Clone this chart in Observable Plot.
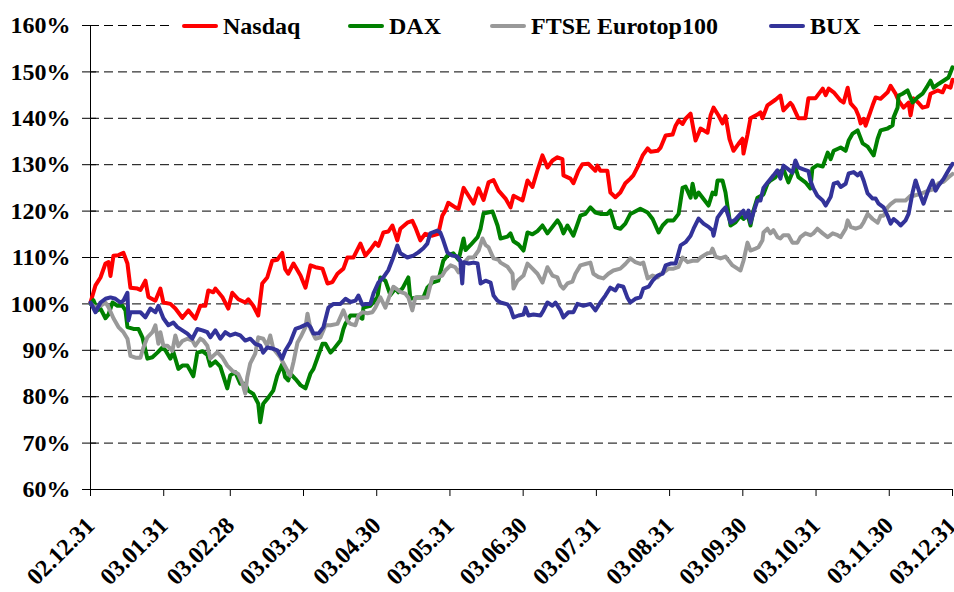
<!DOCTYPE html>
<html><head><meta charset="utf-8">
<script src="https://cdn.jsdelivr.net/npm/d3@7"></script>
<script src="https://cdn.jsdelivr.net/npm/@observablehq/plot@0.6"></script>
<style>
html,body{margin:0;padding:0;background:#fff;}
#wrap{position:relative;width:954px;height:592px;overflow:hidden;}
#legend{position:absolute;left:172px;top:11px;width:700px;height:30px;background:#fff;font-family:"Liberation Serif","Times New Roman",serif;font-weight:bold;font-size:24px;color:#000;}
.item{position:absolute;top:0;height:30px;display:flex;align-items:center;white-space:nowrap}
.sw{width:36px;height:4px;border-radius:2px;margin-right:5px}
</style></head><body><div id="wrap"><div id="legend"></div></div>
<script>
// x = trading-session index since 2002.12.31 (category axis), y = index level in %
const seriesNames = ["Nasdaq", "DAX", "FTSE Eurotop100", "BUX"];
const seriesColors = ["#FF0000", "#008000", "#999999", "#333399"];
const tickLabels = ["02.12.31","03.01.31","03.02.28","03.03.31","03.04.30","03.05.31","03.06.30","03.07.31","03.08.31","03.09.30","03.10.31","03.11.30","03.12.31"];
const tickSessions = [0,22,42,64,86,108,130,152,174,196,218,240,259];
const yTicks = [60,70,80,90,100,110,120,130,140,150,160];

const nasdaq = [[0,100.3],[1.5,104],[3,105.7],[4.5,108.7],[5.4,109],[6,106],[6.9,110.4],[8.4,110.5],[9.9,111],[11.1,108.7],[12,103.5],[14.1,103.3],[15,103],[16.5,105],[17.4,101.5],[19.5,100.7],[21,103.3],[21.9,100.3],[24,100],[25.5,99],[27.6,97],[29.4,98.6],[31.5,96.8],[33,99.6],[34.5,99.6],[35.4,102.9],[36.9,102.5],[37.5,103.3],[39.6,101.5],[41.4,99],[42.6,102.4],[44.4,101],[46.5,100.3],[47.4,101],[48.9,99.6],[50.4,97.5],[51.6,104.4],[53.1,105.7],[54.6,109.3],[56.1,109.5],[57.6,111],[58.5,107.5],[59.4,106.5],[61,108.7],[63.1,106.1],[64.6,103.5],[66.1,108.3],[67.6,107.9],[69.7,107.6],[71.2,104.4],[72.7,104.7],[74.2,106.5],[76,107.6],[77.2,110],[79,110],[81.1,113],[82.6,110.4],[84.1,111.7],[85.6,113.2],[86.5,112.5],[88,115.4],[89.5,115.6],[90.7,116.9],[92.2,113.7],[93.1,116.2],[95.2,117.5],[96.7,117.9],[97.6,116.5],[99.1,113.7],[100.6,115.1],[102.7,114.7],[104.5,115.1],[105.7,119],[106.6,120.1],[107.5,121.8],[109.6,120.8],[110.6,120.5],[112.1,125],[113.6,123.3],[115.1,121.6],[116.6,124.9],[118.1,122.4],[119.6,126.2],[121.1,126.7],[122.6,124.4],[124.7,122.7],[126.2,120.8],[127.1,123.3],[129.8,122.3],[131.3,126.6],[132.8,125.2],[134.3,128.8],[135.8,132],[137.3,129.4],[138.8,130.9],[140.3,131.6],[141.8,131.2],[142.1,127.7],[144.2,127],[145.1,126],[146.6,128.7],[147.8,130.1],[149.6,130.2],[151.7,128.7],[152.3,129.8],[153.2,128.7],[155.3,128.7],[156.2,124],[157.7,123],[159.2,124],[160.7,126],[162.2,127],[163.1,127.7],[164.6,129.8],[165.9,132],[167.4,133.5],[168.3,132.8],[170.4,133],[171.3,133.7],[172.8,136.3],[174.9,136.5],[175.8,138.4],[176.7,139.5],[177.9,138.8],[178.8,139.9],[180.3,141],[181.8,135.2],[183.3,137.8],[185.4,136.9],[186.3,140.6],[187.2,142.3],[188.7,140.6],[189.9,138.9],[190.8,140.5],[192,135.5],[193.2,133],[194.7,134.5],[195.9,135.6],[196.2,132.4],[197.4,136.5],[198.3,140],[200.4,140.8],[201.3,141.3],[201.9,140],[203.4,142.8],[205.8,144],[207.3,144.9],[208.2,141.7],[210.3,143.3],[210.9,142.8],[212.7,140],[214.8,140],[215.7,144.3],[217.8,144.3],[220,146.4],[220.9,145],[221.8,146.4],[223.3,145.6],[225.4,143.8],[226.3,143.4],[227.5,146.6],[228.4,143.2],[229.9,142],[230.8,140.5],[231.4,138.9],[232.3,139.9],[232.9,138.4],[233.8,140.3],[235,142.8],[235.9,144.5],[237.4,144.2],[239.5,145.6],[240.4,147],[241.9,145.3],[242.8,143.8],[244.3,142.3],[245.8,143.4],[246.4,140.6],[247.3,144.3],[248.8,143.3],[250,142.3],[251.5,142.6],[252.4,145.3],[254.5,146],[256,145.6],[256.9,147],[258.4,146.6],[259,148.3]];

const dax = [[0,100],[0.9,100.8],[2.1,98.6],[3,99],[4.5,96.9],[5.4,97.7],[6.6,100.3],[8.1,99.6],[9.6,99.6],[10.5,98.6],[11.1,95],[12.9,94.6],[14.4,94.6],[15.6,92.8],[17.1,88.2],[18.6,88.5],[20.1,89.5],[21.6,90.6],[22.5,90],[24,88.2],[24.9,89.6],[26.4,86],[27.6,86.7],[29.1,86.7],[30,85.6],[30.9,84.4],[32.1,89.5],[33.6,89.8],[35.1,89],[36,86.7],[37.5,87.6],[39,86.5],[41.1,81.8],[42,84.6],[43.5,85.3],[45,82.8],[46.5,82.8],[47.4,81.3],[48.9,80.6],[50.4,78.5],[51,74.5],[51.9,78.5],[53.4,79.8],[54.9,81.3],[56.1,84.5],[57.6,87],[58.5,84.2],[59.4,83.5],[60,85],[61.6,83.8],[63.1,82.5],[64.6,81.8],[66.1,85],[67,86],[68.2,88.4],[69.7,91.4],[70.6,91.4],[72.1,89.5],[73,90.2],[75.1,92.1],[76,94.6],[76.6,95.7],[78.1,97.5],[80.2,97.5],[81.7,96.8],[82,99.2],[84.1,99.6],[86.2,101.4],[87.1,105.7],[88.6,105],[90.1,101.9],[91.6,103.3],[92.5,102.5],[93.7,103.3],[95.5,105.7],[96.1,101.1],[98.2,101.4],[100,101.4],[101.2,103.5],[102.7,104.6],[104.5,105],[106,109.3],[107.2,110.4],[109,110.9],[110.6,109.5],[112.1,114.1],[112.7,111.6],[114.2,112.7],[116.3,114.4],[117.2,116.2],[118.1,119.5],[120.8,119.9],[122.3,116.9],[123.2,114.1],[125.3,114.5],[126.2,115.2],[127.1,113.5],[128.6,112.8],[130.1,111.5],[131.3,115.4],[132.8,115],[134.3,115.7],[135.8,116.9],[137.3,115.2],[138.8,116.6],[140.3,118],[141.2,117],[142.1,115.2],[143.3,116.9],[145.1,114.7],[147.2,119],[148.7,119.4],[150.2,120.8],[151.7,119.7],[153.2,119.4],[155.3,119.4],[156.2,120.1],[157.7,116.5],[159.2,116.2],[160.7,117.3],[162.2,119.4],[163.1,119.7],[165.2,120.5],[167.4,119.7],[168.9,118.3],[170.7,115.4],[171.9,116.9],[173.4,118],[175.2,118],[176.7,119.4],[177.9,125],[178.8,125.3],[180.3,122.9],[180.9,125.9],[181.8,122.9],[182.7,124],[184.2,122.6],[185.7,121.2],[186.9,124],[187.8,123.6],[188.4,126.6],[189.9,126.6],[190.8,124],[191.4,121],[192.3,116.9],[193.8,117.6],[195.3,119],[196.2,118.3],[197.4,119.4],[198.3,116.9],[199.2,120.1],[200.4,122.9],[202.2,123.6],[203.4,125.9],[204.3,126.6],[205.8,127.3],[206.7,128.3],[208.2,129],[209.7,126.2],[210.9,128.3],[211.8,129.4],[212.7,127.3],[214.8,126.2],[216.3,124.9],[216.9,129.2],[218.4,129.9],[220,129.6],[221.5,132.6],[222.4,131.2],[223.3,133],[225.4,133.7],[226.9,133],[227.8,135.2],[229,136.7],[230.5,137.4],[232,134.6],[233.5,133.9],[235.3,132],[236.5,135.6],[237.4,137.4],[239.5,137.8],[241,138.5],[241.3,140.2],[242.5,142.3],[242.8,144.9],[244,145.3],[245.5,146],[247,143.4],[248.5,144.5],[250,145.3],[251.5,147],[252.4,148.1],[253.3,146.6],[254.8,147.4],[256.3,148.1],[257.8,148.8],[259,151]];

const ftse = [[0,100],[1.5,99.3],[3,99.6],[4.5,100.3],[5.4,99.3],[6.9,96.9],[8.4,95],[9.9,93.9],[11.1,92.5],[12,88.8],[13.5,88.4],[15,88.4],[15.9,90.6],[17.1,92.8],[18.6,93.9],[19.5,95.4],[20.4,91.4],[21,93.9],[21.9,91],[23.1,91],[24.6,89.9],[25.5,93.2],[26.4,90.9],[27.6,92],[29.1,92.5],[30.6,92.1],[31.5,91],[33,92.5],[33.9,92.1],[35.1,91],[36,88.2],[38.1,89.6],[39.6,88.5],[41.1,86.7],[42.6,85.6],[44.4,84.9],[45.6,83],[46.5,80.7],[47.1,84.2],[48,87.2],[49.5,89.3],[50.4,92.8],[51.9,92.5],[53.1,91],[54,93.2],[54.9,90.4],[56.1,89.3],[57,88.5],[58.5,86.5],[60,84.5],[61,87.5],[62.2,91.7],[63.1,92.8],[64.6,95],[65.2,97.9],[66.1,94.6],[67.6,92.5],[69.1,92.8],[70.6,95.4],[72.1,95.4],[74.2,95.7],[76,98.6],[77.2,96.4],[78.1,95.7],[79.6,95.4],[80.5,97.5],[81.7,98.2],[83.2,98],[84.7,98.2],[85.6,99.2],[87.1,101.4],[88.6,99.2],[90.1,102.2],[91,103.7],[93.1,102.6],[94.6,102.2],[95.5,101.4],[96.7,98.6],[97.6,101.4],[99.1,101.4],[101.2,101.4],[102.7,105.7],[104.2,105.7],[105.7,106.1],[106.6,107.2],[108.2,108.3],[109.6,107.9],[110.6,106.8],[112.1,108.7],[113.6,110],[115.1,110],[116.6,111.5],[117.8,114.1],[118.7,112.7],[119.6,112.2],[121.1,109.8],[122.6,109.5],[123.2,108.9],[125.3,108],[126.8,106.5],[127.1,103.3],[128.3,105],[130.1,106.1],[131.3,108.7],[132.8,107.6],[134.3,106.5],[135.8,104.6],[137.3,107.9],[138.8,106.1],[140.3,105.7],[141.2,104],[142.1,103.3],[143.3,104.4],[144.8,104.8],[145.7,106.5],[147.2,108.3],[148.7,108.6],[150.2,108.9],[151.1,106.5],[152.6,105.8],[154.1,105.5],[155.6,106.5],[157.1,107.2],[159.2,107.6],[160.7,108.6],[162.2,109.8],[163.7,109],[165.2,108.6],[166.1,108.9],[167.4,105.5],[168.9,106.1],[170.4,105.7],[171.3,106.5],[172.2,106.8],[173.7,107.6],[175.2,107.6],[176.7,108],[177.9,110],[179.4,109],[180.9,109.3],[182.4,109.3],[183.3,110],[185.4,110.9],[186.3,111],[186.9,111.9],[187.8,110.2],[189.3,109.8],[190.8,110.2],[192.9,108.3],[194.4,107.6],[195.3,107.2],[196.2,109.3],[197.4,113.2],[198.3,111.5],[199.8,111.9],[200.7,112.2],[201.9,113.7],[202.2,115.4],[203.4,116.2],[204.3,115.2],[205.2,115.9],[206.4,114.4],[207.3,114.1],[208.2,114.8],[209.7,114.8],[210.9,113.2],[212.4,113.2],[213.3,114.4],[214.8,115.2],[216.3,114.8],[217.2,115.2],[218.4,116.2],[220,115.2],[221.5,114.4],[223,115.2],[224.5,114.8],[225.4,114.4],[226.9,116.2],[227.5,118],[228.4,116.6],[229.9,116.2],[231.4,116.6],[232.3,117.6],[233.5,119.4],[235,118.3],[236.5,117.5],[237.4,119],[238.3,119],[239.5,120.8],[240.4,121.5],[241.9,122.3],[243.4,122.3],[244.9,122.3],[246.4,123.3],[247.3,123.3],[248.8,123.6],[250.3,124],[251.8,124.4],[253.3,124.7],[254.8,126],[256.3,126.3],[257.8,127.3],[259,128]];

const bux = [[0,100.3],[1.5,98.2],[3,100.3],[4.5,101.1],[6,101.4],[7.5,101.1],[9,100.3],[9.9,100.7],[11.1,102.4],[11.4,96.4],[12,98.2],[13.5,98.2],[15,98.2],[16.5,97.1],[18,99],[19.5,98.2],[20.4,99.6],[21.9,96.9],[23.4,95.4],[24.9,96],[26.1,95],[27.6,94.3],[29.1,93.6],[30.6,92.5],[32.1,94.6],[33.6,94.3],[35.1,93.9],[36,92.8],[37.5,94.3],[39,92.5],[40.5,93.9],[42,93.2],[43.5,93.6],[45,93.2],[46.5,92.1],[48,92.5],[49.5,91.4],[51,91],[51.9,89.5],[53.1,90.6],[54.6,90.4],[56.1,90],[57.6,88.2],[58.5,89.9],[60,91.7],[61.6,94.6],[63.1,95],[65.2,95.7],[66.1,95],[67,93.6],[68.5,93.6],[70,95],[71.5,99.2],[73,100],[75.1,100],[76.6,101.1],[78.1,100.4],[79.6,100.7],[80.5,101.8],[81.7,99.8],[82.6,100],[84.1,100],[85,102.2],[86.5,104.6],[88,105.7],[89.5,107.3],[90.7,109.5],[92.2,112.6],[93.1,110.9],[95.2,110],[97,110.4],[98.5,111.1],[100,112],[101.2,113],[102.1,115.2],[104.2,115.8],[105.1,115.4],[106,113.7],[107.2,111.1],[108.7,110.4],[110.2,110.2],[111.1,109.3],[111.7,104.4],[112.1,109],[113.6,108.7],[115.1,108.9],[116.3,108.7],[117.2,104.4],[118.7,105],[120.2,104.6],[121.1,101.8],[122.3,100.7],[123.2,100.3],[125.3,99.9],[126.2,99],[127.1,97.1],[128.6,97.5],[130.1,97.7],[130.7,99.2],[131.6,97.5],[133.1,97.7],[135.2,97.5],[136.1,98.6],[137.3,100.3],[138.8,99.6],[139.7,100.3],[141.2,98.6],[142.1,97.1],[143.6,98.2],[145.1,98.2],[146.3,100],[148.1,99.6],[150.2,100],[151.7,98.6],[153.2,100.3],[154.7,101.8],[156.2,103.5],[157.7,102.9],[158.6,104],[160.1,103.7],[161.3,101.4],[162.2,100.3],[163.7,101.1],[165.2,101.4],[166.1,103.3],[167.7,103.7],[168.9,105],[170.4,106.1],[171.9,106.5],[172.8,108.3],[174.3,108.7],[175.8,108.7],[177.3,112.6],[178.8,113.3],[180.3,114.7],[181.2,116.2],[182.7,118.4],[184.2,117.3],[185.7,116.6],[186.9,115.8],[187.2,114.7],[188.4,118.6],[189.9,120.1],[190.8,120.8],[192.3,117.5],[193.8,118.2],[195.3,119.4],[196.2,120.1],[196.8,118.6],[197.7,120.1],[198.3,117.5],[199.2,119.7],[200.4,122.3],[201.3,122.3],[202.2,125],[203.7,126.4],[205.2,127.7],[206.4,128.8],[207.3,127],[208.2,129.8],[209.7,129],[210.9,128.3],[211.8,130.9],[212.7,129.4],[214.2,129],[215.7,128.6],[216.3,126.6],[217.2,124.9],[218.4,123.3],[220,122.3],[220.9,121.2],[222.4,123.1],[223.3,125.9],[224.5,126.2],[225.4,125.2],[226.9,125.9],[227.8,128.1],[229.3,128.4],[230.5,127.7],[231.4,128.3],[232.3,126.6],[233.5,123.8],[235,122.7],[235.9,122.7],[236.8,121.6],[238.3,120.8],[239.5,119],[240.4,117.3],[241.3,118.3],[242.5,117.6],[243.4,116.9],[244.9,118],[245.8,119.4],[247,124],[247.9,126.6],[249.4,123.3],[250.3,121.6],[251.8,124.7],[253,126.6],[253.9,124.4],[254.8,125.5],[256.3,126.9],[257.8,128.8],[259,130.2]];

const seriesData = [nasdaq, dax, ftse, bux];
const labelBySession = new Map(tickSessions.map((s, i) => [s, tickLabels[i]]));

const chart = Plot.plot({
  width: 954,
  height: 592,
  marginLeft: 90,
  marginRight: 2,
  marginTop: 25,
  marginBottom: 103,
  style: {fontFamily: "'Liberation Serif', 'Times New Roman', serif", fontSize: "24px", fontWeight: "bold", color: "#000", background: "#fff", overflow: "visible"},
  x: {type: "linear", domain: [tickSessions[0], tickSessions[tickSessions.length - 1]]},
  y: {domain: [yTicks[0], yTicks[yTicks.length - 1]]},
  marks: [
    Plot.gridY(yTicks.slice(1), {stroke: "#000", strokeOpacity: 1, strokeWidth: 1, strokeDasharray: "9,5"}),
    Plot.tickY(yTicks, {stroke: "#000", strokeWidth: 1, insetRight: 856}),
    Plot.axisY({ticks: yTicks, tickFormat: d => d + "%", tickSize: 8, tickPadding: 12, label: null, stroke: "#000"}),
    Plot.axisX({ticks: tickSessions, tickFormat: s => labelBySession.get(s), tickRotate: -45, tickSize: 7, tickPadding: 25, label: null, stroke: "#000"}),
    Plot.ruleX([tickSessions[0]], {stroke: "#000", strokeWidth: 1}),
    Plot.ruleY([yTicks[0]], {stroke: "#000", strokeWidth: 1}),
    ...seriesData.map((data, i) => Plot.line(data, {x: d => d[0], y: d => d[1], stroke: seriesColors[i], strokeWidth: 4, strokeLinejoin: "round", strokeLinecap: "round"}))
  ]
});
document.getElementById("wrap").prepend(chart);

const legend = document.getElementById("legend");
const legendLeft = [10, 176, 318, 597];
seriesNames.forEach((name, i) => {
  const item = document.createElement("div");
  item.className = "item";
  item.style.left = legendLeft[i] + "px";
  const sw = document.createElement("span");
  sw.className = "sw";
  sw.style.background = seriesColors[i];
  const t = document.createElement("span");
  t.textContent = name;
  item.append(sw, t);
  legend.append(item);
});
</script>
</body></html>
